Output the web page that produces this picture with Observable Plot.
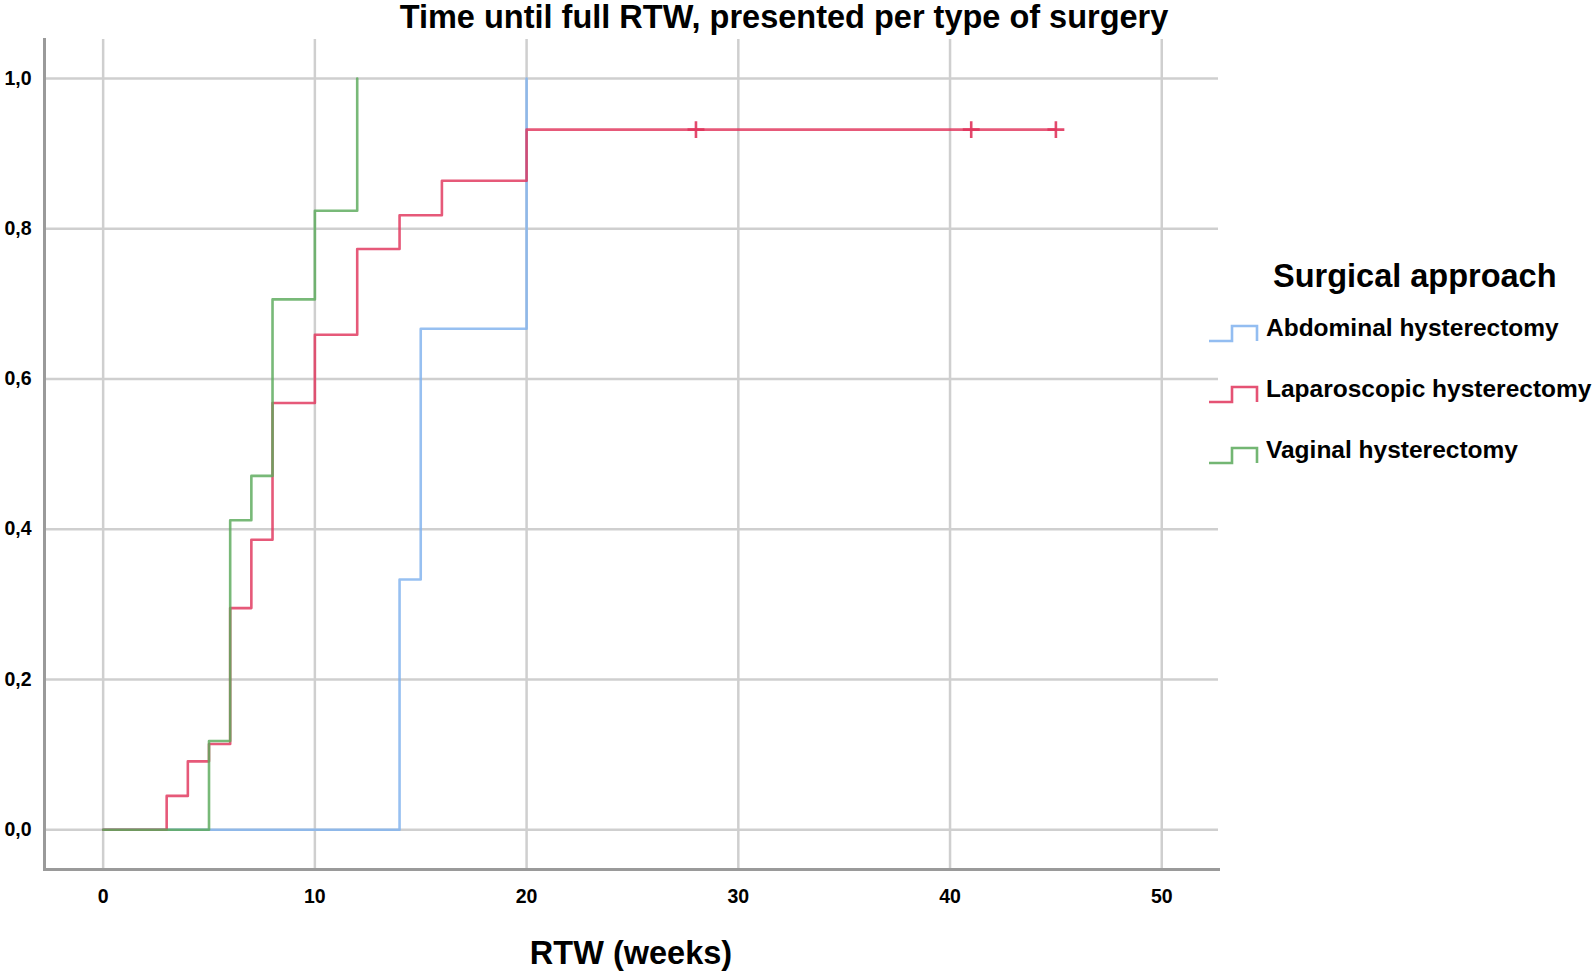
<!DOCTYPE html>
<html>
<head>
<meta charset="utf-8">
<script src="https://cdn.jsdelivr.net/npm/d3@7"></script>
<script src="https://cdn.jsdelivr.net/npm/@observablehq/plot@0.6"></script>
<style>
  html, body { margin: 0; padding: 0; background: #fff; }
  #wrap { position: relative; width: 1594px; height: 974px; overflow: hidden; font-family: "Liberation Sans", Arial, sans-serif; }
  #title { position: absolute; top: -1px; left: 0; width: 1568px; text-align: center; font-size: 32.5px; font-weight: bold; color: #000; line-height: 36px; }
  #chart { position: absolute; left: 0; top: 0; }
  #legend { position: absolute; left: 1208px; top: 255px; color: #000; }
  #legend .lt { font-size: 32.5px; font-weight: bold; margin-left: 65px; line-height: 42px; }
  #legend .it { display: flex; align-items: center; height: 61px; font-size: 24.5px; font-weight: bold; }
  #legend svg { margin-right: 6px; margin-top: 10px; }
  #xlab { position: absolute; left: 0; width: 1262px; top: 935px; text-align: center; font-size: 32.5px; font-weight: bold; }
</style>
</head>
<body>
<div id="wrap">
  <div id="title">Time until full RTW, presented per type of surgery</div>
  <div id="chart"></div>
  <div id="xlab">RTW (weeks)</div>
  <div id="legend"></div>
</div>
<script>
// Series (Kaplan–Meier cumulative RTW), step times in weeks and cumulative proportions
const groups = ["Abdominal hysterectomy", "Laparoscopic hysterectomy", "Vaginal hysterectomy"];
const colors = ["#80b2ee", "#e0345c", "#5aa95a"];

const abdominalTime = [0, 14, 15, 20];
const abdominalValue = [0, 0.333, 0.667, 1.0];

const laparoscopicTime = [0, 3, 4, 5, 6, 7, 8, 10, 12, 14, 16, 20, 45];
const laparoscopicValue = [0, 0.045, 0.091, 0.114, 0.295, 0.386, 0.568, 0.659, 0.773, 0.818, 0.864, 0.932, 0.932];
const laparoscopicCensorTime = [28, 41, 45];
const laparoscopicCensorValue = [0.932, 0.932, 0.932];

const vaginalTime = [0, 5, 6, 7, 8, 10, 12];
const vaginalValue = [0, 0.118, 0.412, 0.471, 0.706, 0.824, 1.0];

const xTicks = [0, 10, 20, 30, 40, 50];
const yTicks = [0, 0.2, 0.4, 0.6, 0.8, 1.0];

function rows(times, values, g) { return times.map((t, i) => ({t, v: values[i], g})); }
const data = [
  ...rows(abdominalTime, abdominalValue, groups[0]),
  ...rows(laparoscopicTime, laparoscopicValue, groups[1]),
  ...rows(vaginalTime, vaginalValue, groups[2])
];
const censored = rows(laparoscopicCensorTime, laparoscopicCensorValue, groups[1]);

const plot = Plot.plot({
  width: 1230,
  height: 974,
  marginLeft: 44,
  marginRight: 12,
  marginTop: 39,
  marginBottom: 105,
  style: { fontFamily: "Liberation Sans, Arial, sans-serif", fontSize: "19px", fontWeight: "bold", color: "#000", background: "transparent" },
  x: { domain: [-2.77, 52.68], ticks: xTicks, label: null },
  y: { domain: [-0.053, 1.052], ticks: yTicks, label: null },
  color: { domain: groups, range: colors },
  marks: [
    Plot.gridX(xTicks, { stroke: "#cfcfcf", strokeOpacity: 1, strokeWidth: 2.5 }),
    Plot.gridY(yTicks, { stroke: "#cfcfcf", strokeOpacity: 1, strokeWidth: 2.5 }),
    Plot.axisX(xTicks, { tickSize: 0, tickPadding: 20, fontSize: 19.5, fontWeight: "bold", tickFormat: d => String(d) }),
    Plot.axisY(yTicks, { tickSize: 0, tickPadding: 13, fontSize: 19.5, fontWeight: "bold", tickFormat: d => d3.format(".1f")(d).replace(".", ",") }),
    Plot.frame({ anchor: "left", stroke: "#9a9a9a", strokeWidth: 3 }),
    Plot.frame({ anchor: "bottom", stroke: "#9a9a9a", strokeWidth: 3 }),
    Plot.line(data, { x: "t", y: "v", z: "g", stroke: "g", curve: "step-after", strokeWidth: 2.6, strokeOpacity: 0.82 }),
    Plot.dot(censored, { x: "t", y: "v", symbol: "plus", r: 5.5, stroke: "g", strokeWidth: 2.6, strokeOpacity: 0.9 })
  ]
});
document.getElementById("chart").appendChild(plot);

// Legend
const legend = document.getElementById("legend");
const lt = document.createElement("div");
lt.className = "lt";
lt.textContent = "Surgical approach";
legend.appendChild(lt);
groups.forEach((g, i) => {
  const it = document.createElement("div");
  it.className = "it";
  it.innerHTML = `<svg width="52" height="24" viewBox="0 0 52 24"><path d="M1,20 H24 V5 H49 V20" fill="none" stroke="${colors[i]}" stroke-opacity="0.85" stroke-width="2.6"/></svg><span>${g}</span>`;
  legend.appendChild(it);
});
</script>
</body>
</html>
